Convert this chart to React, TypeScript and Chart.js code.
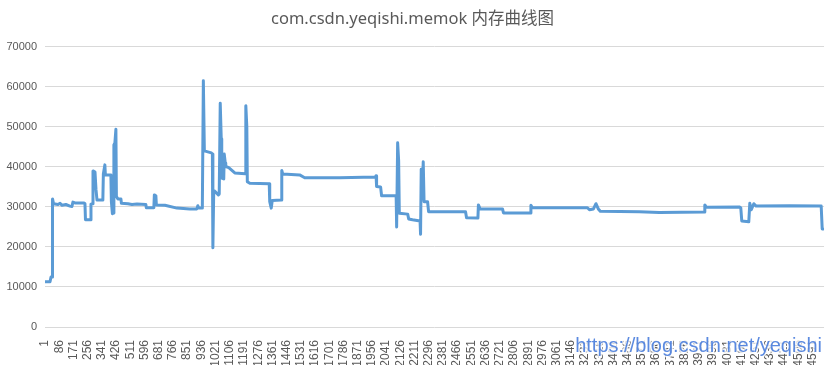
import React, { useEffect, useRef } from "react";
import { Chart, registerables } from "chart.js";

Chart.register(...registerables);

const chartTitle = "com.csdn.yeqishi.memok 内存曲线图";
const watermark = "https://blog.csdn.net/yeqishi";

// sample index (x) and memory value (y) at each change point of the curve
const sampleIndex = [
  1, 31, 37, 43, 46, 52, 79, 91, 103, 126, 150, 162, 168, 180, 234, 240, 243, 273, 276, 285,
  288, 300, 306, 312, 347, 350, 359, 362, 395, 398, 404, 410, 413, 419, 425, 428, 437, 455, 458, 497,
  521, 551, 604, 607, 652, 655, 664, 667, 718, 790, 867, 909, 915, 921, 942, 948, 954, 996, 1002, 1005,
  1010, 1014, 1038, 1043, 1049, 1055, 1058, 1070, 1073, 1079, 1082, 1100, 1136, 1199, 1202, 1208, 1211, 1226, 1342, 1345,
  1354, 1360, 1414, 1417, 1423, 1524, 1554, 1763, 1978, 1981, 1984, 2008, 2014, 2101, 2104, 2110, 2116, 2120, 2170, 2176,
  2199, 2244, 2247, 2251, 2256, 2263, 2268, 2289, 2295, 2516, 2522, 2590, 2593, 2603, 2737, 2743, 2904, 2907, 2916, 3245,
  3257, 3281, 3296, 3310, 3322, 3555, 3675, 3944, 3947, 3956, 4153, 4162, 4168, 4210, 4216, 4225, 4240, 4254, 4452, 4643,
  4649, 4655,
];
const memoryValues = [
  11300, 11300, 12500, 12500, 32000, 30800, 30600, 30900, 30400, 30600, 30200, 30100, 31200, 31000, 31000, 30800, 26800, 26800, 30700, 30800,
  39000, 38700, 34300, 31700, 31700, 38200, 40500, 38000, 38000, 31300, 28300, 28500, 45500, 46000, 49400, 32600, 32000, 32000, 30900, 30800,
  30600, 30700, 30600, 29800, 29800, 33000, 32800, 30500, 30400, 29700, 29500, 29500, 30300, 29700, 29700, 61500, 44000, 43500, 43200, 19800,
  33800, 34000, 33000, 33200, 55900, 47000, 37200, 37000, 43200, 41000, 40100, 39800, 38500, 38300, 55300, 50000, 36300, 35900, 35800, 31300,
  29700, 31600, 31700, 39100, 38200, 38000, 37300, 37300, 37500, 37800, 35100, 35000, 32800, 32800, 25000, 46000, 41500, 28400, 28200, 27000,
  26800, 26500, 23200, 39400, 32000, 41300, 31300, 31300, 28800, 28800, 27300, 27200, 30500, 29500, 29500, 28500, 28500, 30400, 29800, 29800,
  29300, 29500, 30800, 29500, 28900, 28800, 28600, 28700, 30500, 29900, 30000, 29800, 26500, 26300, 30900, 29300, 30800, 30200, 30300, 30200,
  24500, 24500,
];

const xTickLabels = [
  1, 86, 171, 256, 341, 426, 511, 596, 681, 766, 851, 936, 1021, 1106, 1191, 1276, 1361, 1446, 1531, 1616,
  1701, 1786, 1871, 1956, 2041, 2126, 2211, 2296, 2381, 2466, 2551, 2636, 2721, 2806, 2891, 2976, 3061, 3146, 3231, 3316,
  3401, 3486, 3571, 3656, 3741, 3826, 3911, 3996, 4081, 4166, 4251, 4336, 4421, 4506, 4591,
];
const yTickLabels = [0, 10000, 20000, 30000, 40000, 50000, 60000, 70000];
const xMax = 4660;

const watermarkPlugin = {
  id: "watermark",
  afterDraw(chart: any) {
    const ctx = chart.ctx;
    ctx.save();
    ctx.font = "20px 'Liberation Sans', Arial, sans-serif";
    ctx.textAlign = "right";
    ctx.textBaseline = "alphabetic";
    ctx.lineWidth = 3;
    ctx.strokeStyle = "rgba(255,255,255,0.8)";
    ctx.strokeText(watermark, 822, 352);
    ctx.fillStyle = "rgba(62,118,218,0.85)";
    ctx.fillText(watermark, 822, 352);
    ctx.restore();
  },
};

export default function App() {
  const canvasRef = useRef<HTMLCanvasElement | null>(null);

  useEffect(() => {
    if (!canvasRef.current) return;
    const points = sampleIndex.map((x, i) => ({ x, y: memoryValues[i] }));
    const chart = new Chart(canvasRef.current, {
      type: "line",
      data: {
        datasets: [
          {
            label: "内存",
            data: points,
            borderColor: "#5b9bd5",
            borderWidth: 3,
            borderJoinStyle: "round",
            borderCapStyle: "round",
            pointRadius: 0,
            tension: 0,
            fill: false,
          },
        ],
      },
      options: {
        animation: false,
        responsive: false,
        maintainAspectRatio: false,
        layout: { padding: { left: 0, right: 7, top: 0, bottom: 0 } },
        plugins: {
          legend: { display: false },
          tooltip: { enabled: false },
          title: {
            display: true,
            text: chartTitle,
            color: "#595959",
            font: { size: 16.5, weight: "normal", family: "'Noto Sans', 'Noto Sans CJK SC', sans-serif", lineHeight: 1.2 },
            padding: { top: 9, bottom: 18 },
          },
        },
        scales: {
          x: {
            type: "linear",
            min: 1,
            max: xMax,
            grid: { display: false },
            border: { display: false },
            afterBuildTicks: (scale: any) => {
              scale.ticks = xTickLabels.map((v) => ({ value: v }));
            },
            afterFit: (scale: any) => {
              scale.height = 38;
            },
            ticks: {
              autoSkip: false,
              minRotation: 90,
              maxRotation: 90,
              padding: 5,
              color: "#595959",
              font: { size: 12, family: "'Liberation Sans', Arial, sans-serif" },
              callback: (v: any) => String(v),
            },
          },
          y: {
            min: 0,
            max: 70000,
            afterBuildTicks: (scale: any) => {
              scale.ticks = yTickLabels.map((v) => ({ value: v }));
            },
            afterFit: (scale: any) => {
              scale.width = 45;
            },
            grid: { color: "#d9d9d9", lineWidth: 1, drawTicks: false },
            border: { display: false },
            ticks: {
              padding: 8,
              color: "#595959",
              font: { size: 11, family: "'Liberation Sans', Arial, sans-serif" },
              callback: (v: any) => String(v),
            },
          },
        },
      },
      plugins: [watermarkPlugin],
    });
    return () => chart.destroy();
  }, []);

  return (
    <div style={{ position: "fixed", left: 0, top: 0, width: 832, height: 365, background: "#fff" }}>
      <canvas ref={canvasRef} width={832} height={365} style={{ width: 832, height: 365, display: "block" }} />
    </div>
  );
}
